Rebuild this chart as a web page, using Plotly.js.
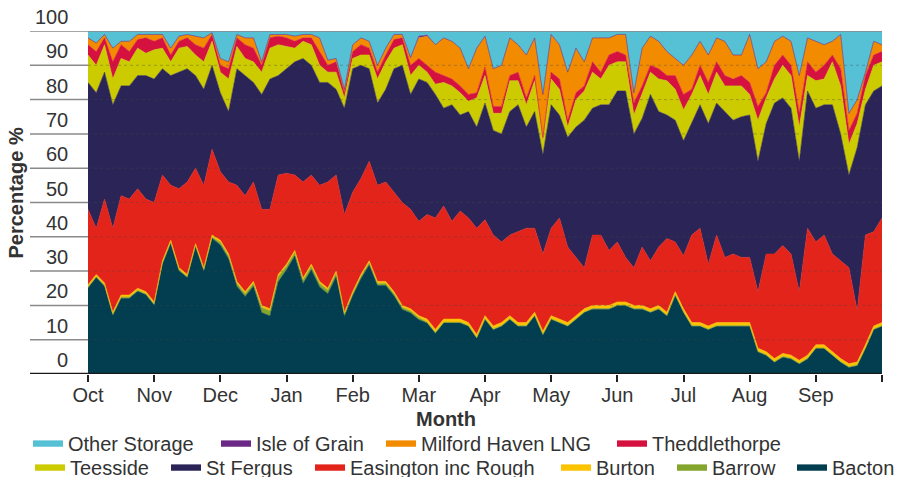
<!DOCTYPE html>
<html><head><meta charset="utf-8">
<script src="https://cdn.plot.ly/plotly-3.0.1.min.js"></script>
<style>html,body{margin:0;padding:0;background:#fff}#chart{width:908px;height:477px}</style>
</head><body><div id="chart"></div>
<script>
// ---- Data (percentage share of supply, ~8 readings per month, Oct..Sep) ----
const monthLabels = ['Oct','Nov','Dec','Jan','Feb','Mar','Apr','May','Jun','Jul','Aug','Sep'];
const pointsPerMonth = 8;

const bacton = [
 25.1,28.1,25.6,17.1,22.1,22.1,24.1,23.1,20.1,32.1,
 38.1,30.1,28.1,37.1,30.1,39.6,37.6,33.6,25.6,22.6,
 25.6,17.9,16.9,26.9,30.4,34.4,26.4,30.4,25.4,23.4,
 28.4,16.8,22.8,27.8,31.8,25.8,25.8,22.8,18.8,17.8,
 15.8,14.9,11.9,14.9,14.9,14.9,13.9,10.4,15.9,12.9,
 13.9,15.9,13.9,13.9,16.9,11.4,15.9,14.9,13.9,15.9,
 17.9,18.9,18.9,18.9,19.9,19.9,18.9,18.9,17.9,18.9,
 16.9,22.9,17.9,13.9,13.9,12.9,13.9,13.9,13.9,13.9,
 13.9,6.4,5.4,3.4,4.9,4.4,2.9,4.4,7.4,7.4,
 5.4,3.4,1.9,2.4,7.4,12.9,13.9];
const barrow = [
 0.3,0.3,0.3,0.3,0.3,0.3,0.3,0.3,0.3,0.3,
 0.3,0.3,0.3,0.3,0.3,0.3,0.8,0.8,0.8,0.8,
 0.8,1.5,1.5,1.5,1.0,1.0,1.0,1.0,1.0,1.0,
 1.0,0.6,0.6,0.6,0.6,0.6,0.6,0.6,0.6,0.6,
 0.6,0.2,0.2,0.2,0.2,0.2,0.2,0.2,0.2,0.2,
 0.2,0.2,0.2,0.2,0.2,0.2,0.2,0.2,0.2,0.2,
 0.2,0.2,0.2,0.2,0.2,0.2,0.2,0.2,0.2,0.2,
 0.2,0.2,0.2,0.2,0.2,0.2,0.2,0.2,0.2,0.2,
 0.2,0.2,0.2,0.2,0.2,0.2,0.2,0.2,0.2,0.2,
 0.2,0.2,0.2,0.2,0.2,0.2,0.2];
const burton = [
 0.6,0.6,0.6,0.6,0.6,0.6,0.6,0.6,0.6,0.6,
 0.6,0.6,0.6,0.6,0.6,0.6,0.6,0.6,0.6,0.6,
 0.6,0.6,0.6,0.6,0.6,0.6,0.6,0.6,0.6,0.6,
 0.6,0.6,0.6,0.6,0.6,0.6,0.6,0.6,0.6,0.6,
 0.6,0.9,0.9,0.9,0.9,0.9,0.9,0.9,0.9,0.9,
 0.9,0.9,0.9,0.9,0.9,0.9,0.9,0.9,0.9,0.9,
 0.9,0.9,0.9,0.9,0.9,0.9,0.9,0.9,0.9,0.9,
 0.9,0.9,0.9,0.9,0.9,0.9,0.9,0.9,0.9,0.9,
 0.9,0.9,0.9,0.9,0.9,0.9,0.9,0.9,0.9,0.9,
 0.9,0.9,0.9,0.9,0.9,0.9,0.9];
const easington = [
 22,13.5,24.5,24.5,29,28,29,27,29,25,
 16,23,27,22,24,25,20,21,28,28,
 29,28,29,29,26.5,22,28,26,28,31,
 28,28.5,29,28,29,28,29,29,30,29,
 27.5,30.5,32.5,33,28.5,31.5,30.5,31,28,26.5,
 23.5,23.5,26.5,27.5,24.5,22.5,25.5,29.5,22,17,
 12,20.5,20.5,16,17.5,13,11,17,14,17,
 21.5,14.5,15.5,25.5,27.5,18,25.5,19,20,19,
 19,16.5,28.5,30.5,31.5,29.5,20,37,30,32,
 28.5,28.5,28,15,32,27.5,30.5];
const stFergus = [
 37,39.5,37,36,32,33,33,36,36,31,
 32,34,33,27,28,24.5,23,20.5,34,35,
 29,33.5,38,29,30.5,33,36,32,30,29,
 25,31,36,33,27,24,27,36,40,33.5,
 41.5,38.5,36,28.5,34,28,31,29.5,34,30.5,
 31.5,36,37,29.5,34,29,36,30,32,38,
 43,37,38,42.5,44,48.5,39,37.5,48.5,39.5,
 36,35.5,33.5,32.5,36,41,38.5,42.5,39,41,
 41.5,38,38,44,43,42.5,38,40,39,38,
 43.5,37,27,47.5,38,41,38.5];
const teesside = [
 8,8,8,7.5,8,7,8,6.5,8.5,6,
 4,7,6.5,6,8,7,6,9.5,6.5,5,
 6,6.5,9,9,6.5,4,5,6,5,3,
 5,3,3,3,4,7,8,6,6,5.5,
 4,3,3,7.5,5.5,6.5,3,8.5,8,5,
 6,9,7,6.5,9,4,7.5,7.5,3,8,
 8.5,10.5,7.5,11.5,8.5,8.5,5.5,7,6.5,9.5,
 10,9,9,8.5,8.5,8.5,9,7.5,10,9,
 6,12,7.5,7,9.5,9.5,10,4.5,8,7.5,
 12.5,14,9,7,4.5,7.5,7];
const theddlethorpe = [
 3,4,2,5,4,3,2.5,4.5,2.5,3,
 2,2,2.5,3,4,2,2,3,2.5,4,
 4,2,3,2.5,2.5,2,1,2,4,2,
 3,1.5,2,3,2,2,2,2.5,2,3,
 2,2,3.5,2,2,2,2,1.5,2.5,2,
 2,1.5,2.5,2,1.5,1,2,3,2,2,
 1.5,3,2,3,3,2,3.5,2.5,2,3,
 1.5,4,4.5,1.5,3,3.5,3,3,2,3,
 3.5,4,1.5,4,3,3,4,4,2.5,4,
 2,5,4,3,4,3,3];
const milfordHaven = [
 2,2.5,1,4,1,3,1.5,1,2,1,
 2,1.5,1,2.5,3,0.5,2,2,1,2,
 3,1,1,0.5,1,1.5,1,1,4,1.5,
 1,1,2,2,2,2,2,1.5,1,2,
 6,8.5,8,11,11,11,7.5,13,9,11,
 12,11,8,12.5,11,12.5,11,10,14,13,
 7,7,10,5,5,6,3,11,8.5,8,
 7,5,8.5,10,7,8,7,10,7,6,
 14,11,9,7,5.5,7,11,7,9,6,
 4,10,5,4,1,4,2];
const isleOfGrain = [
 0,0,0,0,0,0,0,0,0,0,
 0,0,0,0,0,0,0,0,0,0,
 0,0,0,0,0,0,0,0,0,0,
 0,0,0,0,0,0,0,0,0,0.3,
 0.5,0.3,0,0,0,0,0,0,0,0,
 0,0,0,0,0,0,0,0,0,0,
 0,0,0,0,0,0,0,0,0,0,
 0,0,0,0,0,0,0,0,0,0,
 0,0,0,0,0,0,0,0,0,0,
 0,0,0,0,0,0,0];
const otherStorage = [
 2,3.5,1,5,3,3,1,1,1,1,
 5,1.5,1,1.5,2,0.5,8,9,1,2,
 2,9,1,1,1,1.5,1,1,2,8.5,
 8,17,4,2,3,10,5,1,1,7.7,
 1.5,1.2,4,2,3,5,11,5,1.5,11,
 10,2,4,7,2,18.5,1,4,12,5,
 9,2,2,2,1,1,18,5,1.5,3,
 6,8,10,7,3,7,2,3,7,7,
 1,11,9,3,1.5,3,13,2,3,4,
 3,1,24,20,12,3,4];
const yTickValues = [0,10,20,30,40,50,60,70,80,90,100];

// ---- Styling ----
const FONT = 'Liberation Sans, Arial, Helvetica, sans-serif';
const TXT = '#333333';
const W = 908, H = 477, ML = 88, MR = 26, MT = 31, MB = 103;
const PW = W - ML - MR, PH = H - MT - MB;
const px = v => (v - ML) / PW;        // pixel -> paper x
const py = v => (H - MB - v) / PH;    // pixel -> paper y

// stacking order bottom -> top, with legend slot
const series = [
  {name:'Bacton', y:bacton, color:'#033d50', leg:'legend10'},
  {name:'Barrow', y:barrow, color:'#84a52c', leg:'legend9'},
  {name:'Burton', y:burton, color:'#fcc300', leg:'legend8'},
  {name:'Easington inc Rough', y:easington, color:'#e3241b', leg:'legend7'},
  {name:'St Fergus', y:stFergus, color:'#2b2557', leg:'legend6'},
  {name:'Teesside', y:teesside, color:'#cccb00', leg:'legend5'},
  {name:'Theddlethorpe', y:theddlethorpe, color:'#d5123f', leg:'legend4'},
  {name:'Milford Haven LNG', y:milfordHaven, color:'#f28b00', leg:'legend3'},
  {name:'Isle of Grain', y:isleOfGrain, color:'#6c2886', leg:'legend2'},
  {name:'Other Storage', y:otherStorage, color:'#56c0d4', leg:'legend'}
];
const xs = bacton.map((_, i) => i / pointsPerMonth);

const traces = series.map(s => ({
  type:'scatter', mode:'lines', x:xs, y:s.y, name:s.name,
  stackgroup:'one', legend:s.leg,
  line:{color:s.color, width:0.6, shape:'linear'},
  fillcolor:s.color, hoverinfo:'x+y+name'
}));

// legend swatch start positions in pixels (row 1 / row 2)
const legendPos = {
  legend:   [33, 442.7], legend2: [221, 442.7], legend3: [386, 442.7], legend4: [617, 442.7],
  legend5:  [35, 466.7], legend6: [171, 466.7], legend7: [315, 466.7], legend8: [561, 466.7],
  legend9:  [677, 466.7], legend10: [797, 466.7]
};

const layout = {
  width:W, height:H,
  margin:{l:ML, r:MR, t:MT, b:MB, autoexpand:false},
  paper_bgcolor:'#ffffff', plot_bgcolor:'#ffffff',
  font:{family:FONT, size:20, color:TXT},
  showlegend:true,
  xaxis:{
    range:[0, monthLabels.length], type:'linear',
    tickvals: monthLabels.map((_, i) => i).concat([monthLabels.length]),
    ticktext: monthLabels.concat(['']),
    ticks:'outside', ticklen:7, tickwidth:2, tickcolor:'#222',
    ticklabelstandoff:-4,
    showgrid:false, zeroline:false, showline:false,
    tickfont:{family:FONT, size:20, color:TXT}, fixedrange:true
  },
  yaxis:{
    range:[0,100], showticklabels:false, showgrid:false, zeroline:false,
    showline:false, ticks:'', fixedrange:true
  },
  shapes:[], annotations:[]
};

Object.keys(legendPos).forEach(k => {
  const [sx, sy] = legendPos[k];
  layout[k] = {
    x: px(sx - 5), y: py(sy), xanchor:'left', yanchor:'middle',
    orientation:'h', bgcolor:'rgba(0,0,0,0)', borderwidth:0,
    font:{family:FONT, size:20, color:TXT}, itemwidth:30,
    itemclick:false, itemdoubleclick:false
  };
});

// y gridlines & labels
yTickValues.forEach(v => {
  if (v > 0) {
    layout.shapes.push({type:'line', xref:'paper', yref:'y', x0:px(30), x1:(v === 100 ? 1 : 0),
      y0:v, y1:v, line:{color:'#8a8a8a', width:1.5}, layer:'above'});
    if (v < 100) layout.shapes.push({type:'line', xref:'paper', yref:'y', x0:0, x1:1, y0:v, y1:v,
      line:{color:'rgba(70,70,70,0.35)', width:1, dash:'dot'}, layer:'above'});
  }
  layout.annotations.push({xref:'paper', yref:'y', x:px(70), y:v, xanchor:'right', yanchor:'middle',
    yshift:14, text:String(v), showarrow:false, font:{family:FONT, size:20, color:TXT}});
});
// baseline (0)
layout.shapes.push({type:'line', xref:'paper', yref:'y', x0:px(30), x1:1, y0:0, y1:0,
  line:{color:'#1a1a1a', width:2.5}, layer:'above'});

layout.annotations.push({xref:'paper', yref:'paper', x:px(15), y:py(193.5), textangle:-90,
  xanchor:'center', yanchor:'middle', showarrow:false, text:'<b>Percentage %</b>',
  font:{family:FONT, size:20, color:TXT}});
layout.annotations.push({xref:'paper', yref:'paper', x:px(446), y:py(419),
  xanchor:'center', yanchor:'middle', showarrow:false, text:'<b>Month</b>',
  font:{family:FONT, size:20, color:TXT}});

Plotly.newPlot('chart', traces, layout, {displayModeBar:false, responsive:false});
</script>
</body></html>
